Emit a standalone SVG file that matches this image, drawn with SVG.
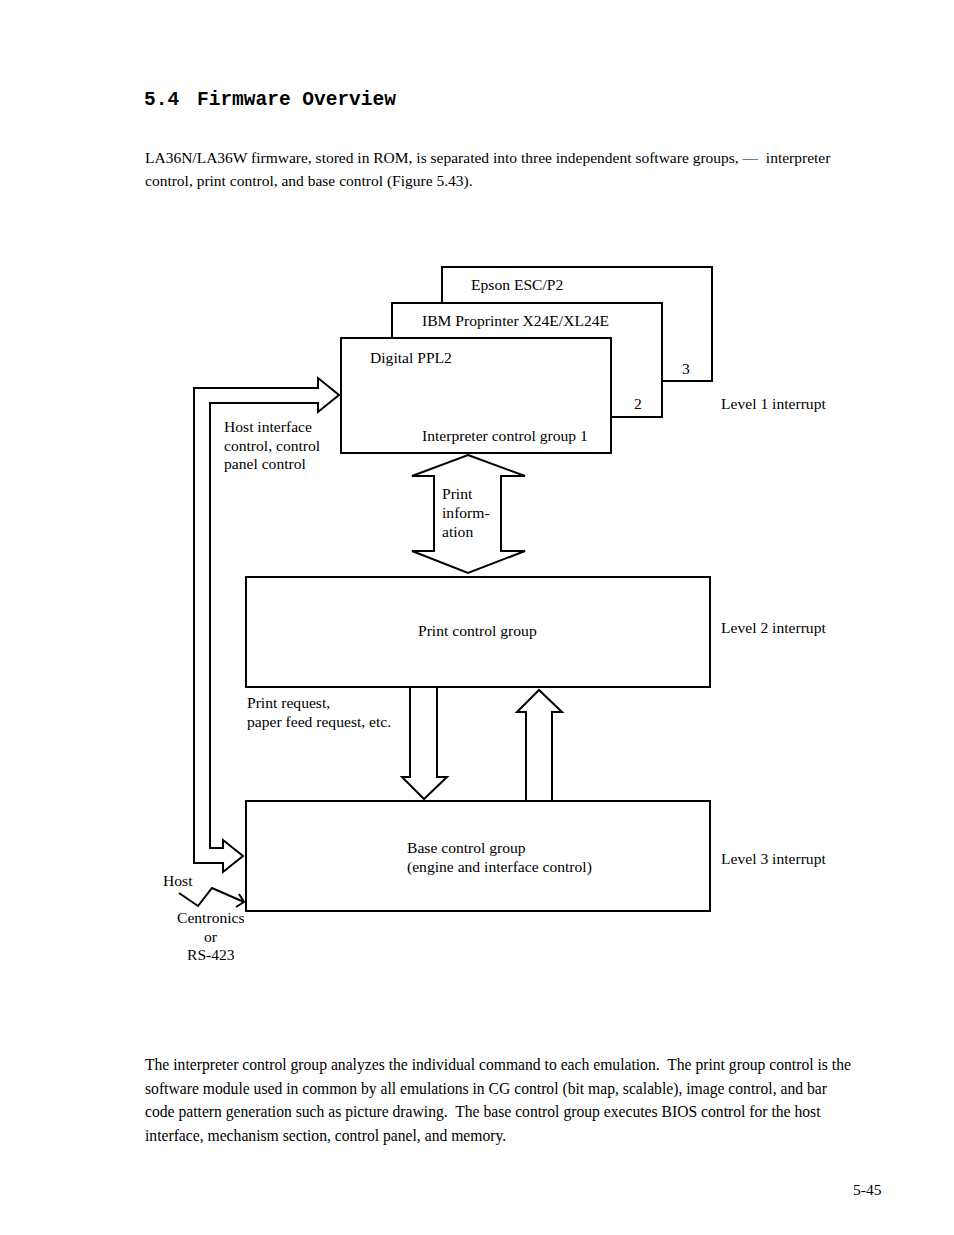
<svg xmlns="http://www.w3.org/2000/svg" width="954" height="1235" viewBox="0 0 954 1235">
<style>
text{font-family:"Liberation Serif","Times New Roman",serif;font-size:15.6px;fill:#000;white-space:pre}
.body{font-size:15.5px}
.body2{font-size:15.65px}
.title{font-family:"Liberation Mono","Courier New",monospace;font-size:19.5px;font-weight:bold}
.box{fill:#fff;stroke:#000;stroke-width:2}
.ln{fill:none;stroke:#000;stroke-width:2}
.arr{fill:#fff;stroke:#000;stroke-width:2;stroke-linejoin:miter}
</style>
<rect width="954" height="1235" fill="#fff"/>
<g id="heading">
<text class="title" x="144" y="105">5.4</text>
<text class="title" x="197" y="105">Firmware Overview</text>
</g>
<g id="intro">
<text class="body" x="145" y="163" xml:space="preserve">LA36N/LA36W firmware, stored in ROM, is separated into three independent software groups, —  interpreter</text>
<text class="body" x="145" y="186">control, print control, and base control (Figure 5.43).</text>
</g>
<g id="epson">
<path class="ln" d="M442,302 V267 H712 V381 H662"/>
<text x="471" y="290">Epson ESC/P2</text>
<text x="682" y="374">3</text>
</g>
<g id="ibm">
<path class="ln" d="M392,338 V303 H662 V417 H611"/>
<text x="422" y="326">IBM Proprinter X24E/XL24E</text>
<text x="634" y="409">2</text>
</g>
<g id="ppl2">
<rect class="box" x="341" y="338" width="270" height="115"/>
<text x="370" y="363">Digital PPL2</text>
<text x="422" y="441">Interpreter control group 1</text>
</g>
<g id="print-control">
<rect class="box" x="246" y="577" width="464" height="110"/>
<text x="418" y="636">Print control group</text>
</g>
<g id="base-control">
<rect class="box" x="246" y="801" width="464" height="110"/>
<text x="407" y="853">Base control group</text>
<text x="407" y="872">(engine and interface control)</text>
</g>
<g id="connectors">
<polygon class="arr" points="468,455 525,476 501,476 501,551 525,551 468,573 412,551 434,551 434,476 412,476"/>
<polygon class="arr" points="410,687 437,687 437,777 447,777 424,799 402,777 410,777"/>
<polygon class="arr" points="526,801 552,801 552,712 562,712 539,690 517,712 526,712"/>
<polygon class="arr" points="194,863 223,863 223,872 243,856 223,840 223,848 210,848 210,403 318,403 318,412 339,395 318,378 318,388 194,388"/>
<polyline class="ln" points="179,893 198,906 212,888 244,902" stroke-width="1.6"/>
<polyline class="ln" points="239,894 244,902 236,907" stroke-width="1.6"/>
</g>
<g id="labels">
<text x="721" y="409">Level 1 interrupt</text>
<text x="721" y="633">Level 2 interrupt</text>
<text x="721" y="864">Level 3 interrupt</text>
<text x="224" y="432">Host interface</text>
<text x="224" y="451">control, control</text>
<text x="224" y="469">panel control</text>
<text x="442" y="499">Print</text>
<text x="442" y="518">inform-</text>
<text x="442" y="537">ation</text>
<text x="247" y="708">Print request,</text>
<text x="247" y="727">paper feed request, etc.</text>
<text x="163" y="886">Host</text>
<text x="177" y="923">Centronics</text>
<text x="204" y="942">or</text>
<text x="187" y="960">RS-423</text>
</g>
<g id="closing">
<text class="body2" x="145" y="1070" xml:space="preserve">The interpreter control group analyzes the individual command to each emulation.  The print group control is the</text>
<text class="body2" x="145" y="1094">software module used in common by all emulations in CG control (bit map, scalable), image control, and bar</text>
<text class="body2" x="145" y="1117" xml:space="preserve">code pattern generation such as picture drawing.  The base control group executes BIOS control for the host</text>
<text class="body2" x="145" y="1141">interface, mechanism section, control panel, and memory.</text>
</g>
<text class="body" x="853" y="1195">5-45</text>
</svg>
